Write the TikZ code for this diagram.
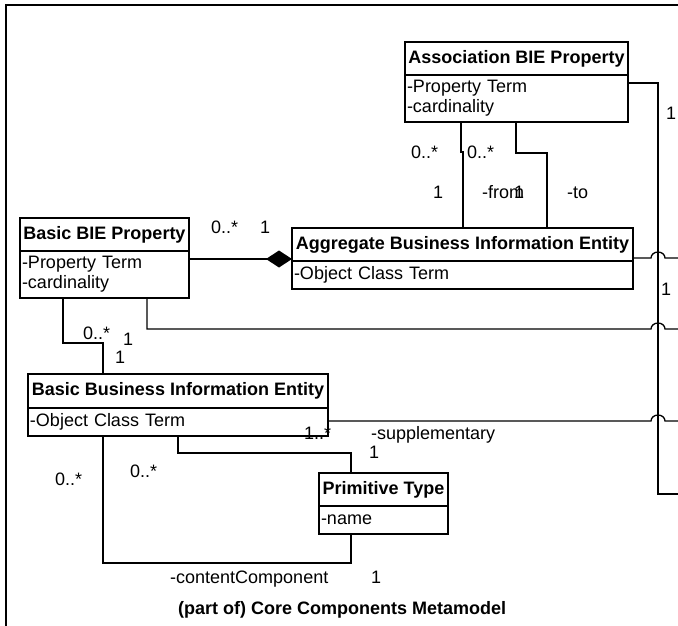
\documentclass[tikz,border=0pt]{standalone}
\usepackage{fontspec}
\setmainfont{Liberation Sans}
\usepackage{tikz}
\usetikzlibrary{arrows.meta,positioning}

\begin{document}
\begin{tikzpicture}[x=1pt,y=-1pt,
    font=\fontsize{18}{20}\selectfont,
    head/.style={draw,line width=1.8pt,outer sep=0pt,inner sep=0pt,minimum height=33pt,minimum width=#1,anchor=north west,font=\fontsize{18}{20}\selectfont\bfseries},
    attr/.style={draw,line width=1.8pt,outer sep=0pt,inner xsep=2pt,inner ysep=0pt,text width=#1,align=left},
    conn/.style={line width=1.3pt},
    mult/.style={inner sep=0pt,anchor=base west}]
  \useasboundingbox (0,0) rectangle (678,626);
  \draw[line width=1.6pt] (678,5) -- (6,5) -- (6,626);

  \node[head=223pt] (abp) at (405,42) {Association BIE Property};
  \node[attr=219pt,minimum height=47pt,below=0pt of abp] (abpattr) {-Property Term\\-cardinality};
  \node[head=169pt] (bbp) at (20,218) {Basic BIE Property};
  \node[attr=165pt,minimum height=47pt,below=0pt of bbp] (bbpattr) {-Property Term\\-cardinality};
  \node[head=341pt] (abie) at (292,228) {Aggregate Business Information Entity};
  \node[attr=337pt,minimum height=28pt,below=0pt of abie] (abieattr) {-Object Class Term};
  \node[head=300pt,minimum height=34pt] (bbie) at (28,374) {Basic Business Information Entity};
  \node[attr=296pt,minimum height=28pt,below=0pt of bbie] (bbieattr) {-Object Class Term};
  \node[head=129pt] (ptype) at (319,473) {Primitive Type};
  \node[attr=125pt,minimum height=28pt,below=0pt of ptype] (ptypeattr) {-name};

  \draw[conn] (abpattr.south -| 461,0) -- (461,152) -- (463,152) -- (abie.north -| 463,0);
  \draw[conn] (abpattr.south -| 516,0) |- (547,153) -- (abie.north -| 547,0);
  \draw[conn] (abpattr.east |- 0,83) -| (658,494) -- (678,494);
  \draw[conn,-{Diamond[length=26pt,width=17pt]}] (bbpattr.east |- 0,259) -- (abie.west |- 0,259);
  \draw[conn] (abie.east |- 0,258) -- (651,258) arc[start angle=180,end angle=0,x radius=7pt,y radius=6pt] -- (678,258);
  \draw[conn] (bbpattr.south -| 63,0) |- (103,343) -- (bbie.north -| 103,0);
  \draw[conn] (bbpattr.south -| 147,0) |- (651,329) arc[start angle=180,end angle=0,x radius=7pt,y radius=6pt] -- (678,329);
  \draw[conn] (bbieattr.east |- 0,421) -- (651,421) arc[start angle=180,end angle=0,x radius=7pt,y radius=6pt] -- (678,421);
  \draw[conn] (bbieattr.south -| 178,0) |- (351,453) -- (ptype.north -| 351,0);
  \draw[conn] (bbieattr.south -| 103,0) |- (351,563) -- (ptypeattr.south -| 351,0);

  \node[mult] (compmany) at (211,233) {0..*};
  \node[mult] (compone) at (260,233) {1};
  \node[mult] (frommany) at (411,158) {0..*};
  \node[mult] (tomany) at (467,158) {0..*};
  \node[mult] (fromone) at (433,198) {1};
  \node[mult] (fromrole) at (482,198) {-from};
  \node[mult] (toone) at (514,198) {1};
  \node[mult] (torole) at (567,198) {-to};
  \node[mult] (abpone) at (666,120) {1};
  \node[mult] (abieone) at (661,295) {1};
  \node[mult] (bbpmany) at (83,339) {0..*};
  \node[mult] (bbpone) at (123,345) {1};
  \node[mult] (bbieone) at (115,363) {1};
  \node[mult] (suppmany) at (304,439) {1..*};
  \node[mult] (supprole) at (371,439) {-supplementary};
  \node[mult] (suppone) at (369,458) {1};
  \node[mult] (contmany) at (55,485) {0..*};
  \node[mult] (ptmany) at (130,477) {0..*};
  \node[mult] (controle) at (170,583) {-contentComponent};
  \node[mult] (contone) at (371,583) {1};
  \node[mult,font=\fontsize{18}{20}\selectfont\bfseries] (caption) at (178,614) {(part of) Core Components Metamodel};
\end{tikzpicture}
\end{document}
